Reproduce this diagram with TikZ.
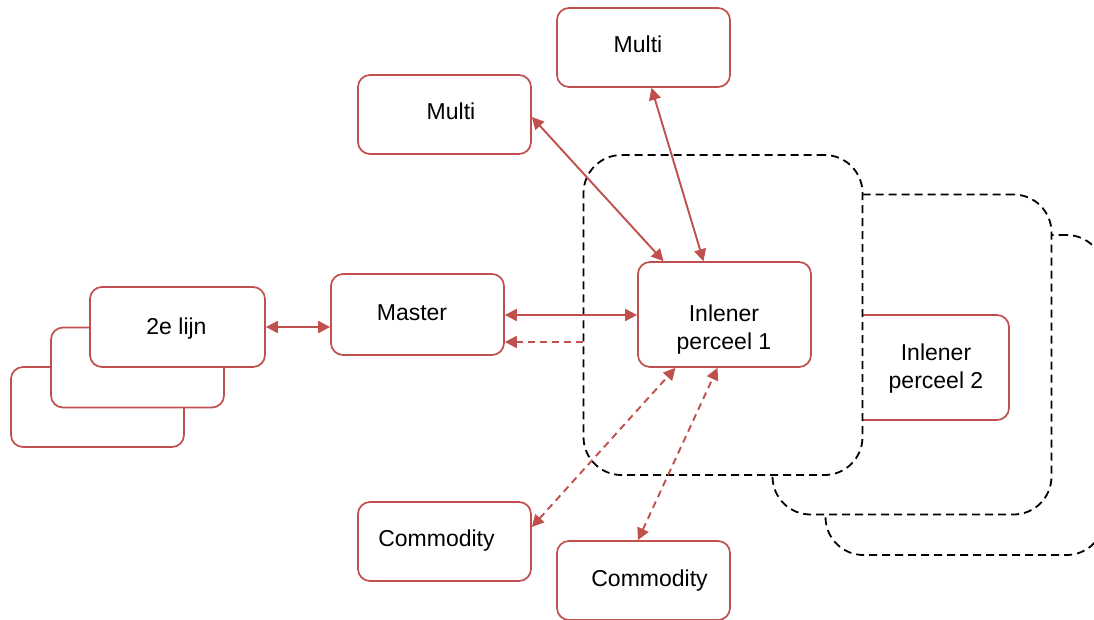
\documentclass[tikz,border=0pt]{standalone}
\usepackage{fontspec}
\setmainfont{Liberation Sans}
\usetikzlibrary{arrows.meta,calc}
\definecolor{boxred}{RGB}{192,80,77}
\begin{document}
\begin{tikzpicture}[x=1pt,y=-1pt,
  box/.style={draw=boxred, line width=1.7pt, fill=white, rounded corners=12pt,
    minimum width=173pt, minimum height=79pt, inner sep=0pt},
  zone/.style={draw=black, line width=1.8pt, dash pattern=on 8pt off 5pt,
    fill=white, rounded corners=38pt, minimum width=279pt, minimum height=320pt, inner sep=0pt},
  lbl/.style={font=\fontsize{23}{28}\selectfont, inner sep=0pt, text height=16.5pt, text depth=0pt},
  lbl2/.style={font=\fontsize{23}{28}\selectfont, inner sep=0pt, align=center},
  link/.style={draw=boxred, line width=1.9pt, {Triangle[length=12pt,width=12pt]}-{Triangle[length=12pt,width=12pt]}},
  dlink/.style={link, dash pattern=on 7pt off 5pt},
  dret/.style={draw=boxred, line width=1.9pt, dash pattern=on 7pt off 5pt, -{Triangle[length=12pt,width=12pt]}},
]
\useasboundingbox (0,0) rectangle (1094,619);
\clip (0,0) rectangle (1094,619);

% stacked dashed regions, back to front
\node[zone] (z3) at (965,395) {};
\node[zone] (z2) at (912,354.5) {};
\node[box, minimum height=105pt] (in2) at (922.5,367.5) {};
\node[lbl2] (in2t) at (936,369) {Inlener\\perceel 2};
\node[zone] (z1) at (723,315) {};

% stack of "2e lijn" cards
\node[box, minimum height=80pt] (l2c) at (97.5,407) {};
\node[box, minimum height=80pt] (l2b) at (137.5,367.5) {};
\node[box, minimum width=175pt, minimum height=80pt] (l2a) at (177.5,327) {};
\node[lbl] (l2t) at (176.5,326) {2e lijn};

% boxes
\node[box, minimum height=81pt] (master) at (417.5,314.5) {};
\node[lbl] (mastert) at (412,312) {Master};
\node[box] (multiL) at (444.5,114.5) {};
\node[lbl] (multiLt) at (451,111) {Multi};
\node[box] (multiT) at (643.5,47.5) {};
\node[lbl] (multiTt) at (638,44) {Multi};
\node[box, minimum height=105pt] (in1) at (724.5,314.5) {};
\node[lbl2] (in1t) at (724,329.5) {Inlener\\perceel 1};
\node[box] (comL) at (444.5,541.5) {};
\node[lbl] (comLt) at (436.5,538) {Commodity};
\node[box] (comB) at (643.5,580.5) {};
\node[lbl] (comBt) at (649.5,578) {Commodity};

% connectors
\draw[link] (l2a.east) -- (l2a.east -| master.west);
\draw[link] ([yshift=-0.5pt]master.east) -- ([yshift=-0.5pt]in1.west);
\coordinate (mret) at ([yshift=-27.5pt]master.east);
\draw[dret] (mret -| z1.west) -- (mret);
\draw[link] ([yshift=-2.5pt]multiL.east) -- ([xshift=-61pt]in1.north);
\draw[link] ([xshift=8pt]multiT.south) -- ([xshift=-21pt]in1.north);
\draw[dlink] ([yshift=14.5pt]comL.east) -- ([xshift=-49pt]in1.south);
\draw[dlink] ([xshift=-5.5pt]comB.north) -- ([xshift=-7pt]in1.south);
\end{tikzpicture}
\end{document}
